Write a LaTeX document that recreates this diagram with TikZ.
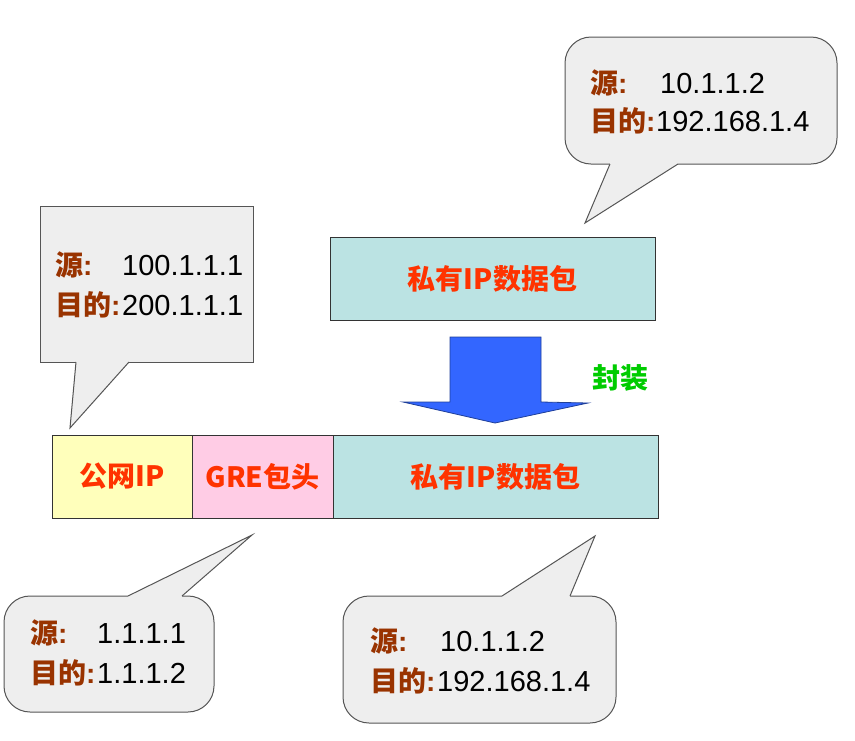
\documentclass[tikz,border=0pt]{standalone}
\usepackage{fontspec}
\setmainfont{Liberation Sans}
\newfontfamily\cjk{Noto Sans CJK SC}
\definecolor{lblbrown}{HTML}{993300}
\definecolor{boxred}{HTML}{FF3300}
\definecolor{callfill}{HTML}{EEEEEE}
\definecolor{callline}{HTML}{555555}
\definecolor{pubyellow}{HTML}{FFFFBB}
\definecolor{grepink}{HTML}{FFCCE5}
\definecolor{privteal}{HTML}{BBE3E3}
\definecolor{arrowblue}{HTML}{3366FF}
\definecolor{arrowline}{HTML}{1F3F99}
\definecolor{encgreen}{HTML}{00CC00}
\tikzset{
  callbody/.style={draw=callline, fill=callfill, line width=1pt},
  calltail/.style={draw=callline, line width=1pt, line join=miter},
  lbl/.style={text=lblbrown, font=\bfseries\fontsize{28}{28}\selectfont, anchor=base west, inner sep=0pt},
  num/.style={text=black, font=\fontsize{29}{29}\selectfont, anchor=base west, inner sep=0pt},
  pkt/.style={draw=black!80, line width=1pt, minimum height=83pt, inner sep=0pt,
    text=boxred, font=\cjk\bfseries\fontsize{28}{28}\selectfont},
}
\begin{document}
\begin{tikzpicture}[x=1pt,y=-1pt]
\useasboundingbox (0,0) rectangle (855,740);

% ---------- packets ----------
\node[pkt, fill=privteal, minimum width=325pt] (ptop) at (492.5,278.5) {私有IP数据包};
\node[pkt, fill=pubyellow, minimum width=140pt] (pub) at (122,476.5) {公网IP};
\node[pkt, fill=grepink, minimum width=141pt] (gre) at (262.5,476.5) {GRE包头};
\node[pkt, fill=privteal, minimum width=325pt] (priv) at (495.5,476.5) {私有IP数据包};

% ---------- encapsulation arrow ----------
\draw[fill=arrowblue, draw=arrowline, line width=0.8pt, line join=miter]
  (450,337) -- (541,337) -- (541,402) -- (588,403) -- (495,423) -- (403,402) -- (450,402) -- cycle;
\node[text=encgreen, font=\cjk\bfseries\fontsize{28}{28}\selectfont] (enc) at (620,378) {封装};

% ---------- top-right callout ----------
\coordinate (tipA) at (585,223);
\draw[callbody, rounded corners=26pt] (565,37) rectangle (837,164);
\fill[callfill] (610,161) -- (610,164) -- (tipA) -- (678,164) -- (678,161) -- cycle;
\draw[calltail] (610,164) -- (tipA) -- (678,164);
\node[lbl] (a1) at (590,93) {{\cjk 源}:};
\node[num] (a1n) at (660,93) {10.1.1.2};
\node[lbl] (a2) at (590,131) {{\cjk 目的}:};
\node[num] (a2n) at (656,131) {192.168.1.4};

% ---------- left callout ----------
\coordinate (tipB) at (70,428);
\draw[callbody] (40,206) rectangle (253,362);
\fill[callfill] (76,359) -- (76,362) -- (tipB) -- (129,362) -- (129,359) -- cycle;
\draw[calltail] (76,362) -- (tipB) -- (129,362);
\node[lbl] (b1) at (55,275) {{\cjk 源}:};
\node[num] (b1n) at (122,275) {100.1.1.1};
\node[lbl] (b2) at (55,315) {{\cjk 目的}:};
\node[num] (b2n) at (122,315) {200.1.1.1};

% ---------- bottom-left callout ----------
\coordinate (tipC) at (252,535);
\draw[callbody, rounded corners=26pt] (4,596) rectangle (214,712);
\fill[callfill] (128,599) -- (128,596) -- (tipC) -- (182,596) -- (182,599) -- cycle;
\draw[calltail] (128,596) -- (tipC) -- (182,596);
\node[lbl] (c1) at (30,643) {{\cjk 源}:};
\node[num] (c1n) at (97,643) {1.1.1.1};
\node[lbl] (c2) at (30,683) {{\cjk 目的}:};
\node[num] (c2n) at (97,683) {1.1.1.2};

% ---------- bottom-right callout ----------
\coordinate (tipD) at (595,536);
\draw[callbody, rounded corners=26pt] (343,596) rectangle (616,723);
\fill[callfill] (502,599) -- (502,596) -- (tipD) -- (570,596) -- (570,599) -- cycle;
\draw[calltail] (502,596) -- (tipD) -- (570,596);
\node[lbl] (d1) at (370,651) {{\cjk 源}:};
\node[num] (d1n) at (440,651) {10.1.1.2};
\node[lbl] (d2) at (370,691) {{\cjk 目的}:};
\node[num] (d2n) at (437,691) {192.168.1.4};
\end{tikzpicture}
\end{document}
